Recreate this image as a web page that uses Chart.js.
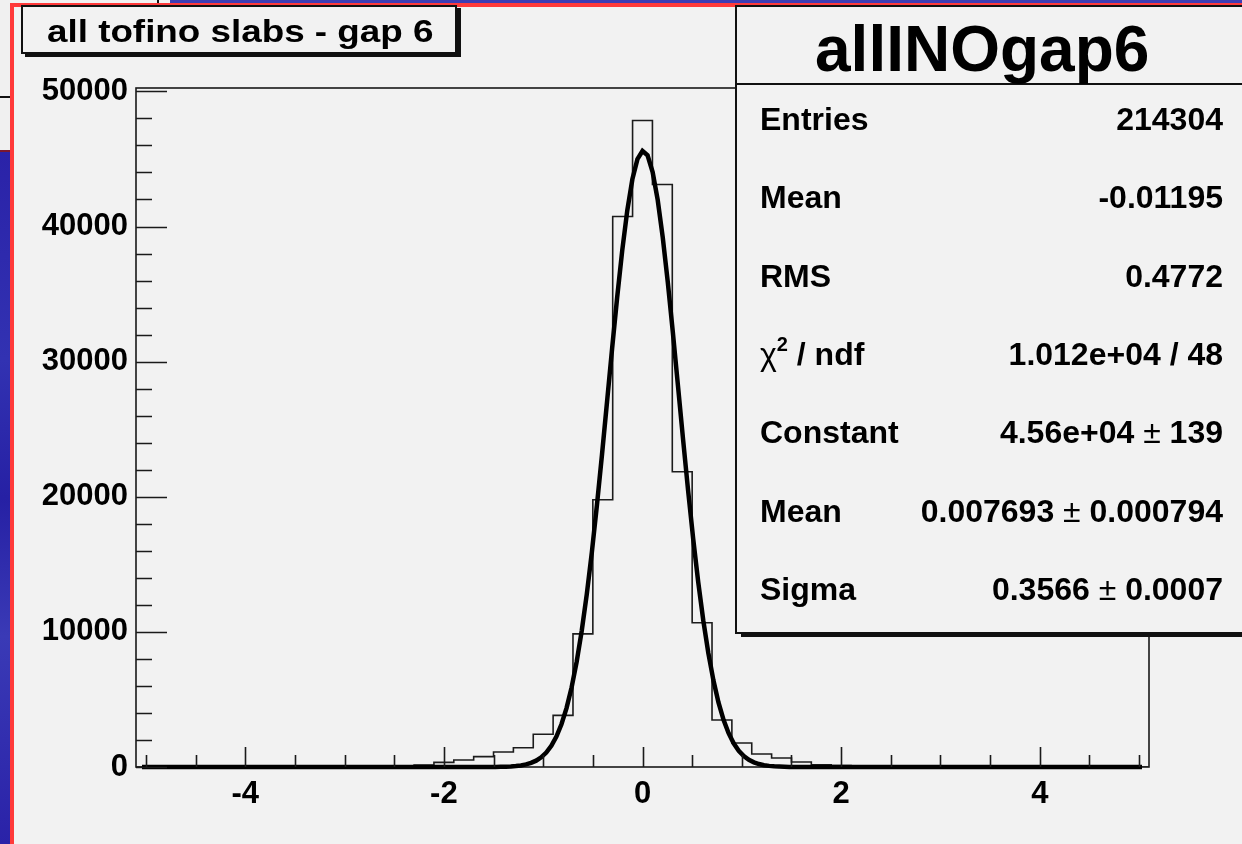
<!DOCTYPE html>
<html>
<head>
<meta charset="utf-8">
<script src="https://cdn.jsdelivr.net/npm/chart.js@4/dist/chart.umd.min.js"></script>
<style>
  html, body { margin: 0; padding: 0; background: #f2f2f2; }
  body { width: 1242px; height: 844px; position: relative; overflow: hidden;
         font-family: "Liberation Sans", Arial, Helvetica, sans-serif; }
  #c { position: absolute; left: 0; top: 0; background: #f2f2f2; }
  .deco { position: absolute; }
  #titlebox { position: absolute; left: 21px; top: 5px; width: 432px; height: 45px;
              border: 2px solid #111; background: #f2f2f2; box-shadow: 4px 3px 0 #111; }
  #titlebox span { position: absolute; left: 24px; top: 6px; font-size: 32px; font-weight: bold;
                   color: #000; white-space: nowrap; transform: scaleX(1.15); transform-origin: 0 50%; }
  #stats { position: absolute; left: 735px; top: 5px; width: 540px; height: 625px;
           border: 2px solid #111; background: #f2f2f2; box-shadow: 6px 3px 0 #111; }
  #stats .head { position: absolute; left: 0; top: 0; width: 100%; height: 76px;
                 border-bottom: 2px solid #111; }
  #stats .head span { position: absolute; left: 78px; top: 5px; font-size: 64px; font-weight: bold;
                      color: #000; white-space: nowrap; }
  .row { position: absolute; left: 0; width: 486px; height: 40px; font-size: 32px; font-weight: bold;
         color: #000; white-space: nowrap; }
  .row .lab { position: absolute; left: 23px; top: 0; }
  .row .val { position: absolute; right: 0; top: 0; }
  .thin { font-weight: normal; }
  sup { font-size: 20px; line-height: 0; vertical-align: 14px; }
</style>
</head>
<body>
<canvas id="c" width="1242" height="844"></canvas>

<!-- window surround -->
<div class="deco" style="left:0;top:0;width:10px;height:152px;background:#f0f0f0;"></div>
<div class="deco" style="left:0;top:96px;width:10px;height:2px;background:#111;"></div>
<div class="deco" style="left:0;top:150px;width:10px;height:2px;background:#7a1830;"></div>
<div class="deco" style="left:0;top:152px;width:10px;height:692px;
     background:linear-gradient(180deg,#2a22a8 0%,#3232b2 30%,#2620a4 50%,#3a3ab6 70%,#2a22a8 100%);"></div>
<div class="deco" style="left:157px;top:0;width:2px;height:4px;background:#111;"></div>
<div class="deco" style="left:170px;top:0;width:1072px;height:3px;background:#3d3db4;"></div>
<div class="deco" style="left:10px;top:3px;width:1232px;height:4px;background:#ff3a3a;"></div>
<div class="deco" style="left:10px;top:3px;width:4px;height:841px;background:#ff3a3a;"></div>

<div id="titlebox"><span id="titleText"></span></div>
<div id="stats"><div class="head"><span id="statsTitle"></span></div></div>

<script>
// ---- histogram: bin centres (width 0.2) and counts ----
const binCenters = [
  -5.0, -4.8, -4.6, -4.4, -4.2, -4.0, -3.8, -3.6, -3.4, -3.2, -3.0,
  -2.8, -2.6, -2.4, -2.2, -2.0, -1.8, -1.6, -1.4, -1.2, -1.0,
  -0.8, -0.6, -0.4, -0.2, 0.0, 0.2, 0.4, 0.6, 0.8, 1.0,
  1.2, 1.4, 1.6, 1.8, 2.0, 2.2, 2.4, 2.6, 2.8, 3.0,
  3.2, 3.4, 3.6, 3.8, 4.0, 4.2, 4.4, 4.6, 4.8, 5.0
];
const binCounts = [
  5, 5, 5, 10, 10, 10, 15, 15, 20, 25, 30,
  40, 60, 90, 150, 340, 520, 770, 1110, 1430, 2420,
  3820, 9850, 19780, 40740, 47850, 43110, 21850, 10670, 3480, 1780,
  960, 670, 370, 170, 100, 70, 50, 35, 25, 20,
  15, 10, 10, 10, 5, 5, 5, 5, 5, 5
];

// ---- gaussian fit parameters ----
const fitConstant = [45600];
const fitMean = [0.007693];
const fitSigma = [0.3566];

// ---- axes ----
const xRange = [-5.1, 5.1];
const yRange = [0, 50250];
const xTickLabels = [-4, -2, 0, 2, 4];
const yTickLabels = [0, 10000, 20000, 30000, 40000, 50000];
const xMinorStep = 0.5;
const yMinorStep = 2000;

// ---- text panels ----
const histTitle = 'all tofino slabs - gap 6';
const statsName = 'allINOgap6';
const statLabels = ['Entries', 'Mean', 'RMS', '<span class="thin">\u03c7</span><sup>2</sup> / ndf',
                    'Constant', 'Mean', 'Sigma'];
const statValues = ['214304', '-0.01195', '0.4772', '1.012e+04 / 48',
                    '4.56e+04 <span class="thin">\u00b1</span> 139',
                    '0.007693 <span class="thin">\u00b1</span> 0.000794',
                    '0.3566 <span class="thin">\u00b1</span> 0.0007'];

document.getElementById('titleText').textContent = histTitle;
document.getElementById('statsTitle').textContent = statsName;
const statsBox = document.getElementById('stats');
statLabels.forEach((lab, i) => {
  const r = document.createElement('div');
  r.className = 'row';
  r.style.top = (94 + i * 78.3) + 'px';
  r.innerHTML = '<span class="lab">' + lab + '</span><span class="val">' + statValues[i] + '</span>';
  statsBox.appendChild(r);
});

// histogram outline: stepped at bin edges
const histPoints = [{ x: xRange[0], y: binCounts[0] }]
  .concat(binCenters.map((c, i) => ({ x: c, y: binCounts[i] })))
  .concat([{ x: xRange[1], y: binCounts[binCounts.length - 1] }]);

// fitted gaussian evaluated from its parameters
const nFit = 200;
const fitPoints = [];
for (let k = 0; k <= nFit; k++) {
  const x = xRange[0] + (xRange[1] - xRange[0]) * k / nFit;
  const z = (x - fitMean[0]) / fitSigma[0];
  fitPoints.push({ x: x, y: fitConstant[0] * Math.exp(-0.5 * z * z) });
}

const axisColor = '#1a1a1a';
const frameAndTicks = {
  id: 'frameAndTicks',
  beforeDatasetsDraw(chart) {
    const { ctx, chartArea: a } = chart;
    ctx.save();
    ctx.strokeStyle = axisColor;
    ctx.lineWidth = 1.6;
    ctx.strokeRect(a.left, a.top, a.right - a.left, a.bottom - a.top);
    ctx.restore();
  },
  afterDatasetsDraw(chart) {
    const { ctx, chartArea: a, scales } = chart;
    ctx.save();
    ctx.strokeStyle = axisColor;
    ctx.lineWidth = 1.6;
    ctx.beginPath();
    // y axis ticks, pointing into the frame
    for (let v = yRange[0]; v <= yTickLabels[yTickLabels.length - 1] + 1; v += yMinorStep) {
      const py = Math.round(scales.y.getPixelForValue(v)) + 0.5;
      const len = yTickLabels.includes(v) ? 31 : 16;
      ctx.moveTo(a.left, py);
      ctx.lineTo(a.left + len, py);
    }
    // x axis ticks, pointing up
    for (let v = -5; v <= 5.0001; v += xMinorStep) {
      const vv = Math.round(v * 10) / 10;
      const px = Math.round(scales.x.getPixelForValue(vv)) + 0.5;
      const len = xTickLabels.includes(vv) ? 20 : 12;
      ctx.moveTo(px, a.bottom);
      ctx.lineTo(px, a.bottom - len);
    }
    ctx.stroke();
    ctx.restore();
  }
};

const tickFont = { family: '"Liberation Sans", Arial, sans-serif', size: 31, weight: 'bold' };

new Chart(document.getElementById('c'), {
  type: 'line',
  data: {
    datasets: [
      {
        label: 'histogram',
        data: histPoints,
        stepped: 'middle',
        borderColor: '#1c1c1c',
        borderWidth: 1.6,
        pointRadius: 0,
        fill: false,
        order: 2
      },
      {
        label: 'gaus fit',
        data: fitPoints,
        borderColor: '#000',
        borderWidth: 4.5,
        pointRadius: 0,
        tension: 0,
        fill: false,
        clip: { left: -6, right: -7, top: 0, bottom: 5 },
        order: 1
      }
    ]
  },
  options: {
    responsive: false,
    animation: false,
    devicePixelRatio: 1,
    layout: { padding: { left: 0, top: 88, right: 93, bottom: 0 } },
    plugins: { legend: { display: false }, tooltip: { enabled: false } },
    scales: {
      x: {
        type: 'linear',
        min: xRange[0],
        max: xRange[1],
        grid: { display: false, drawTicks: false },
        border: { display: false },
        ticks: { font: tickFont, color: '#000', padding: 9, maxRotation: 0,
                  callback: v => String(v) },
        afterBuildTicks: s => { s.ticks = xTickLabels.map(v => ({ value: v })); },
        afterFit: s => { s.height = 77; }
      },
      y: {
        type: 'linear',
        min: yRange[0],
        max: yRange[1],
        grid: { display: false, drawTicks: false },
        border: { display: false },
        ticks: { font: tickFont, color: '#000', padding: 8,
                 callback: v => String(v) },
        afterBuildTicks: s => { s.ticks = yTickLabels.map(v => ({ value: v })); },
        afterFit: s => { s.width = 136; }
      }
    }
  },
  plugins: [frameAndTicks]
});
</script>
</body>
</html>
